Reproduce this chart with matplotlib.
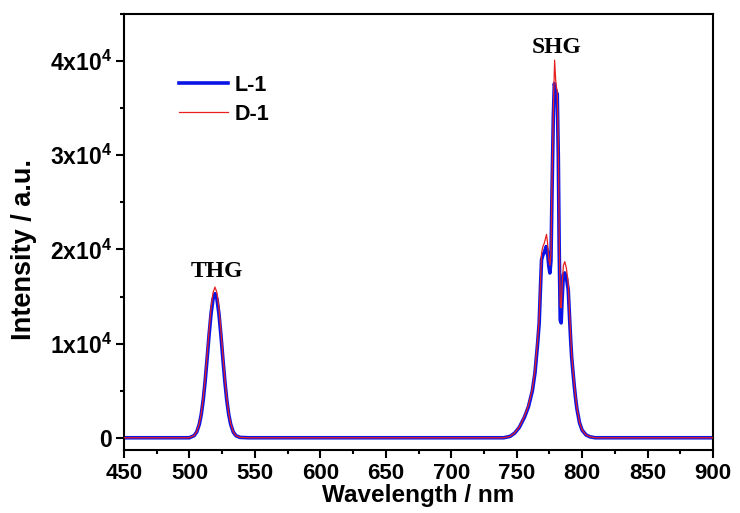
import numpy as np
import matplotlib
matplotlib.use('Agg')
import matplotlib.pyplot as plt
from matplotlib.ticker import MultipleLocator, FuncFormatter

plt.rcParams['font.family'] = ['Liberation Sans', 'DejaVu Sans']
plt.rcParams['font.weight'] = 'bold'
plt.rcParams['mathtext.fontset'] = 'custom'
plt.rcParams['mathtext.bf'] = 'Liberation Sans:bold'
plt.rcParams['mathtext.rm'] = 'Liberation Sans:bold'
plt.rcParams['mathtext.default'] = 'bf'

# spectra (wavelength in nm, intensity in counts)
wl_l1 = [450, 500, 500.5, 503.5, 505.5, 507.5, 509, 510.5, 512, 513.5, 515, 516.5, 518, 519.5,
         521, 522.5, 524, 525.5, 527, 528.5, 530, 531.5, 533.5, 535.5, 538.5, 545,
         740, 745, 748.5, 752, 756, 759, 762, 764, 766, 767.2, 768.2, 769, 770, 771.2,
         772.5, 773.5, 774.5, 775.4, 776.2, 777, 778, 778.8, 779.6, 780.3, 781, 781.8,
         782.5, 783.3, 784, 784.8, 785.7, 786.7, 788, 789.4, 790.5, 791.3, 792, 793, 794,
         795, 796, 798, 800, 803, 806, 810, 900]
int_l1 = [0, 0, 40, 220, 600, 1420, 2470, 4010, 6040, 8440, 10950, 13190, 14740, 15300,
          14740, 13190, 10950, 8440, 6040, 4010, 2470, 1420, 600, 220, 40, 0,
          0, 150, 500, 1100, 2200, 3300, 5000, 6900, 10000, 12200, 16000, 18900, 19400, 19700,
          20300, 19800, 18300, 17500, 18800, 26000, 34000, 37600, 37000, 36700, 36500, 30000,
          20000, 12500, 12200, 15000, 17300, 17500, 17000, 15700, 12500, 10300, 8600, 7000, 5500,
          4200, 3100, 1600, 800, 300, 100, 0, 0]

wl_d1 = [450, 500, 500.5, 503.5, 505.5, 507.5, 509, 510.5, 512, 513.5, 515, 516.5, 518, 519.5,
         521, 522.5, 524, 525.5, 527, 528.5, 530, 531.5, 533.5, 535.5, 538.5, 545,
         740, 745, 748.5, 752, 756, 759, 762, 764, 766, 767.2, 768.2, 769, 770, 771.2,
         772.8, 773.6, 774.5, 775.4, 776.2, 777, 778.2, 779, 779.8, 780.4, 781, 781.8,
         782.5, 783.3, 784, 784.8, 785.7, 786.8, 788, 789.4, 790.5, 791.3, 792, 793, 794,
         795, 796, 798, 800, 803, 806, 810, 900]
int_d1 = [0, 0, 40, 230, 630, 1490, 2580, 4190, 6320, 8830, 11450, 13790, 15420, 16000,
          15420, 13790, 11450, 8830, 6320, 4190, 2580, 1490, 630, 230, 40, 0,
          0, 160, 520, 1150, 2300, 3450, 5200, 7200, 10400, 12700, 16600, 19600, 20300, 20700,
          21600, 20700, 19000, 18300, 19600, 27500, 36000, 40100, 38000, 37200, 36800, 31000,
          21500, 13900, 13800, 16300, 18300, 18700, 18000, 16400, 13000, 10700, 8900, 7200, 5700,
          4400, 3200, 1650, 820, 310, 100, 0, 0]

fig = plt.figure(figsize=(7.4, 5.13), dpi=100)
ax = fig.add_axes([0.1676, 0.1228, 0.7959, 0.8499])

ax.plot(wl_l1, int_l1, color='#0a14e6', lw=2.6, label='L-1', zorder=2)
ax.plot(wl_d1, int_d1, color='#e62020', lw=0.9, label='D-1', zorder=3)

ax.set_xlim(450, 900)
ax.set_ylim(-1300, 45000)
ax.xaxis.set_major_locator(MultipleLocator(50))
ax.xaxis.set_minor_locator(MultipleLocator(25))
ax.yaxis.set_major_locator(MultipleLocator(10000))
ax.yaxis.set_minor_locator(MultipleLocator(5000))


def yfmt(v, pos):
    if v == 0:
        return '0'
    return r'%dx10$^{4}$' % int(round(v / 10000))


ax.yaxis.set_major_formatter(FuncFormatter(yfmt))
ax.tick_params(which='both', direction='out', top=False, right=False, width=1.5)
ax.tick_params(which='major', length=5.8, labelsize=16.5)
ax.tick_params(which='minor', length=3)
ax.tick_params(axis='x', which='major', pad=3.5, labelsize=16)
ax.tick_params(axis='y', which='major', pad=3)
for s in ax.spines.values():
    s.set_linewidth(1.5)

ax.set_xlabel('Wavelength / nm', fontsize=17.5, fontweight='bold', labelpad=0)
ax.set_ylabel('Intensity / a.u.', fontsize=19.5, fontweight='bold', labelpad=9, y=0.461)

ax.text(521.2, 17050, 'THG', family='Liberation Serif', fontweight='bold', fontsize=17,
        ha='center', va='baseline')
ax.text(780.8, 40850, 'SHG', family='Liberation Serif', fontweight='bold', fontsize=17,
        ha='center', va='baseline')

ax.legend(loc='upper left', bbox_to_anchor=(0.06, 0.905), frameon=False, fontsize=15.5,
          handlelength=2.3, handletextpad=0.3, labelspacing=0.38)

fig.savefig('out.png', dpi=100)
